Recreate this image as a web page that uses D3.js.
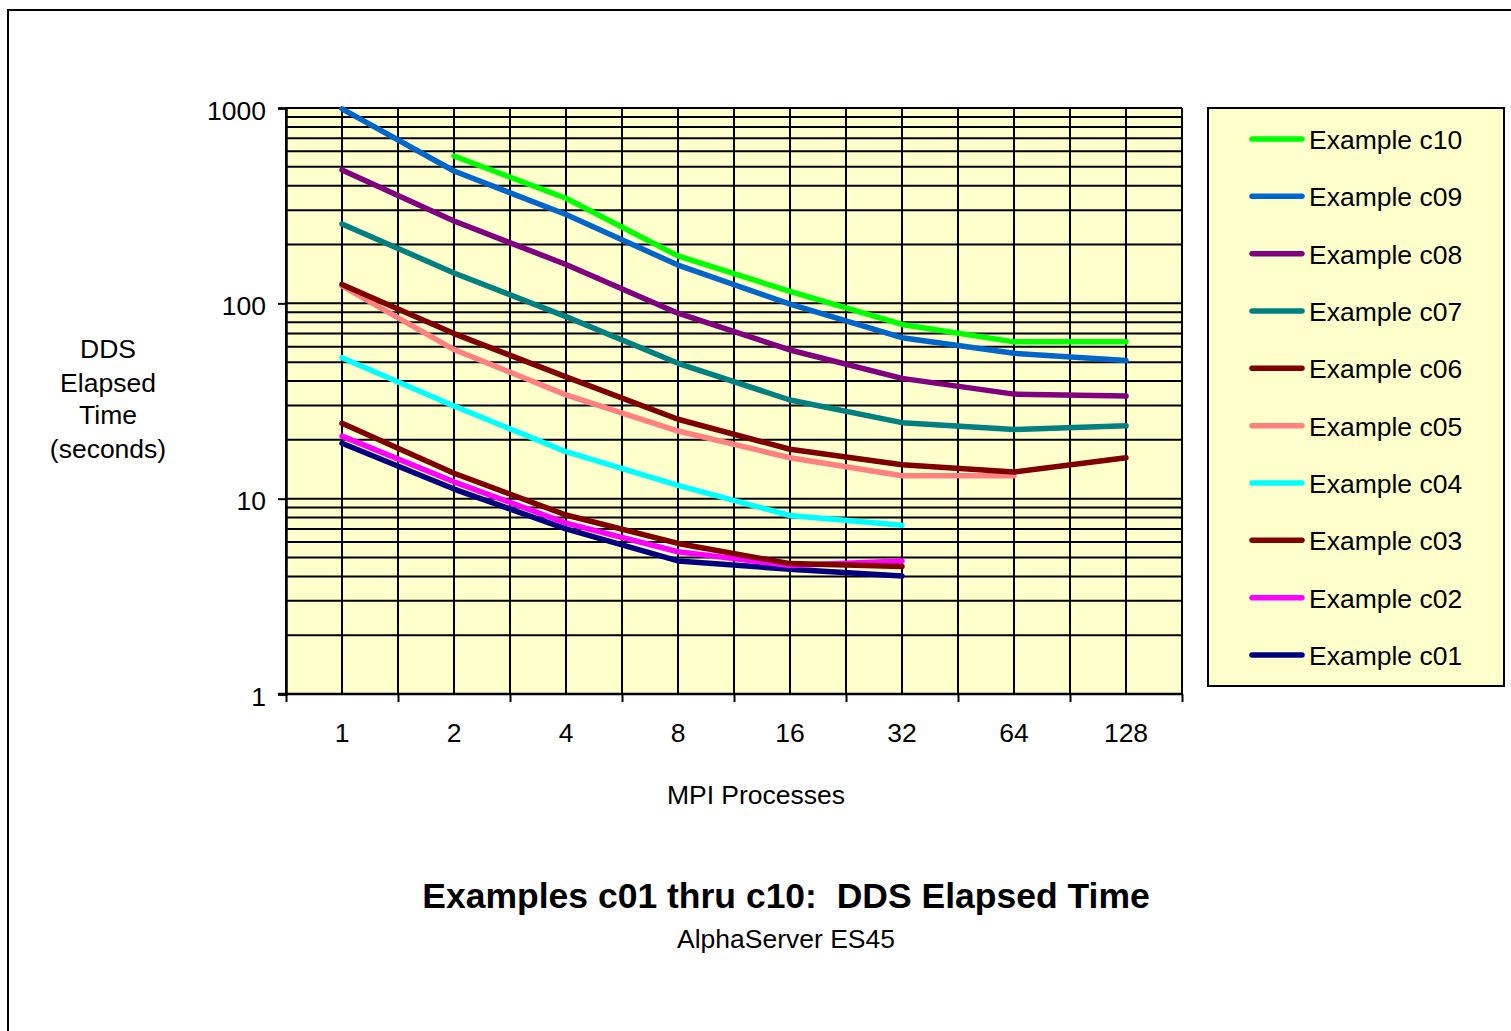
<!DOCTYPE html>
<html>
<head>
<meta charset="utf-8">
<script src="https://cdn.jsdelivr.net/npm/d3@7"></script>
<style>
  body { margin: 0; background: #fff; }
  svg { display: block; font-family: "Liberation Sans", Arial, sans-serif; }
</style>
</head>
<body>
<div id="chart"></div>
<script>
// categories on the x axis
var procs = ["1", "2", "4", "8", "16", "32", "64", "128"];

// elapsed seconds per example, null where not run
var c10 = [null, 568, 345, 175, 115, 78, 63.5, 63.5];
var c09 = [990, 476, 285, 157, 99, 66.7, 55.5, 51];
var c08 = [482, 264, 158, 89, 57.7, 41.3, 34.3, 33.5];
var c07 = [255, 143, 85.5, 49.3, 32, 24.5, 22.6, 23.6];
var c06 = [125, 70, 42, 25.5, 17.9, 14.9, 13.7, 16.2];
var c05 = [123, 58, 34, 22.2, 16.2, 13.1, 13.1, null];
var c04 = [52.7, 29.8, 17.4, 11.7, 8.2, 7.3, null, null];
var c03 = [24.3, 13.5, 8.25, 5.9, 4.65, 4.5, null, null];
var c02 = [20.9, 12.2, 7.5, 5.35, 4.55, 4.8, null, null];
var c01 = [19.2, 11.2, 7.0, 4.8, 4.35, 4.02, null, null];

var seriesNames = ["Example c10", "Example c09", "Example c08", "Example c07", "Example c06",
                   "Example c05", "Example c04", "Example c03", "Example c02", "Example c01"];
var seriesData = [c10, c09, c08, c07, c06, c05, c04, c03, c02, c01];
var seriesColors = ["#00ff00", "#0066cc", "#800080", "#008080", "#800000",
                    "#ff8080", "#00ffff", "#800000", "#ff00ff", "#000080"];

var yTicks = [1, 10, 100, 1000];

// ------------------------------------------------------------------ //
//                            svg setup                               //
// ------------------------------------------------------------------ //

var width = 1511, height = 1031;
var fs = 26.5; // common label size
var svg = d3.select("#chart").append("svg")
  .attr("width", width)
  .attr("height", height);

// outer frame, only top and left visible
svg.append("rect")
  .attr("x", 8).attr("y", 10)
  .attr("width", 1600).attr("height", 1100)
  .attr("fill", "#fff")
  .attr("stroke", "#000")
  .attr("stroke-width", 2);

var plot = { left: 286, top: 108, right: 1182, bottom: 694 };

var x = d3.scaleBand()
  .domain(procs)
  .range([plot.left, plot.right]);

var y = d3.scaleLog()
  .domain([1, 1000])
  .range([plot.bottom, plot.top]);

// plot background
svg.append("rect")
  .attr("x", plot.left).attr("y", plot.top)
  .attr("width", plot.right - plot.left)
  .attr("height", plot.bottom - plot.top)
  .attr("fill", "#ffffcc");

// horizontal grid (major + minor log lines)
var gridVals = [];
for (var dec = 1; dec < 1000; dec *= 10) {
  for (var k = 1; k < 10; k++) gridVals.push(dec * k);
}
gridVals.push(1000);

svg.append("g")
  .selectAll("line")
  .data(gridVals)
  .enter().append("line")
  .attr("x1", plot.left).attr("x2", plot.right)
  .attr("y1", function(d) { return y(d); })
  .attr("y2", function(d) { return y(d); })
  .attr("stroke", "#000")
  .attr("stroke-width", 2);

// vertical grid: band edges and band centers
var vLines = [];
procs.forEach(function(p) {
  vLines.push(x(p));
  vLines.push(x(p) + x.bandwidth() / 2);
});
vLines.push(plot.right);

svg.append("g")
  .selectAll("line")
  .data(vLines)
  .enter().append("line")
  .attr("x1", function(d) { return d; })
  .attr("x2", function(d) { return d; })
  .attr("y1", plot.top).attr("y2", plot.bottom)
  .attr("stroke", "#000")
  .attr("stroke-width", 2);

// ------------------------------------------------------------------ //
//                               axes                                 //
// ------------------------------------------------------------------ //

var yAxis = svg.append("g")
  .attr("transform", "translate(" + plot.left + ",0)")
  .call(d3.axisLeft(y).tickValues(yTicks).tickSize(8).tickPadding(12)
    .tickFormat(d3.format("d")));
yAxis.select(".domain").attr("stroke-width", 2.5);
yAxis.selectAll(".tick line").attr("stroke-width", 2);
yAxis.selectAll("text")
  .attr("font-size", fs)
  .attr("dy", "0.42em")
  .attr("fill", "#000")
  .attr("font-family", "Liberation Sans, Arial, sans-serif");

// bottom ticks at band edges
var edges = procs.map(function(p) { return x(p); }).concat([plot.right]);
var xAxis = svg.append("g")
  .attr("transform", "translate(0," + plot.bottom + ")")
  .call(d3.axisBottom(d3.scaleLinear().domain([plot.left, plot.right]).range([plot.left, plot.right]))
    .tickValues(edges).tickSize(8).tickFormat(""));
xAxis.select(".domain").attr("stroke-width", 2.5).attr("d", "M" + (plot.left - 8) + ",0H" + plot.right);
xAxis.selectAll(".tick line").attr("stroke-width", 2);

// category labels
var xLabels = svg.append("g")
  .attr("transform", "translate(0," + plot.bottom + ")")
  .call(d3.axisBottom(x).tickSize(0).tickPadding(29));
xLabels.select(".domain").remove();
xLabels.selectAll("text")
  .attr("font-size", fs)
  .attr("fill", "#000")
  .attr("font-family", "Liberation Sans, Arial, sans-serif");

// axis titles
svg.append("text")
  .attr("x", 756).attr("y", 804)
  .attr("text-anchor", "middle")
  .attr("font-size", fs)
  .text("MPI Processes");

var yTitle = ["DDS", "Elapsed", "Time", "(seconds)"];
var yTitleY = [358, 392, 424, 458];
svg.append("g")
  .selectAll("text")
  .data(yTitle)
  .enter().append("text")
  .attr("x", 108)
  .attr("y", function(d, i) { return yTitleY[i]; })
  .attr("text-anchor", "middle")
  .attr("font-size", fs)
  .text(function(d) { return d; });

// ------------------------------------------------------------------ //
//                               lines                                //
// ------------------------------------------------------------------ //

var line = d3.line()
  .defined(function(d) { return d != null; })
  .x(function(d, i) { return x(procs[i]) + x.bandwidth() / 2; })
  .y(function(d) { return y(d); });

svg.append("g")
  .selectAll("path")
  .data(seriesData.slice().reverse())
  .enter().append("path")
  .attr("d", line)
  .attr("fill", "none")
  .attr("stroke", function(d, i) { return seriesColors[seriesColors.length - 1 - i]; })
  .attr("stroke-width", 5.5)
  .attr("stroke-linejoin", "round")
  .attr("stroke-linecap", "round");

// ------------------------------------------------------------------ //
//                               legend                               //
// ------------------------------------------------------------------ //

var legend = svg.append("g");
legend.append("rect")
  .attr("x", 1208).attr("y", 108)
  .attr("width", 296).attr("height", 578)
  .attr("fill", "#ffffcc")
  .attr("stroke", "#000")
  .attr("stroke-width", 2);

var rowY = d3.scaleLinear().domain([0, 9]).range([139, 655]);

var items = legend.selectAll("g.item")
  .data(seriesNames)
  .enter().append("g")
  .attr("class", "item")
  .attr("transform", function(d, i) { return "translate(0," + rowY(i) + ")"; });

items.append("line")
  .attr("x1", 1252).attr("x2", 1302)
  .attr("stroke", function(d, i) { return seriesColors[i]; })
  .attr("stroke-width", 5.5)
  .attr("stroke-linecap", "round");

items.append("text")
  .attr("x", 1309).attr("y", 10)
  .attr("font-size", fs)
  .text(function(d) { return d; });

// ------------------------------------------------------------------ //
//                               titles                               //
// ------------------------------------------------------------------ //

svg.append("text")
  .attr("x", 786).attr("y", 908)
  .attr("text-anchor", "middle")
  .attr("font-size", 35.5)
  .attr("font-weight", "bold")
  .attr("xml:space", "preserve")
  .style("white-space", "pre")
  .text("Examples c01 thru c10:  DDS Elapsed Time");

svg.append("text")
  .attr("x", 786).attr("y", 948)
  .attr("text-anchor", "middle")
  .attr("font-size", 26.5)
  .text("AlphaServer ES45");
</script>
</body>
</html>
